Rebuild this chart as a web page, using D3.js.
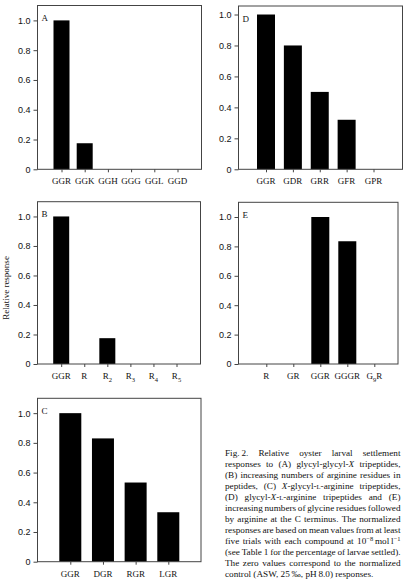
<!DOCTYPE html>
<html>
<head>
<meta charset="utf-8">
<script src="https://cdn.jsdelivr.net/npm/d3@7"></script>
<style>
  body { margin: 0; background: #fff; }
  svg { display: block; font-family: "Liberation Serif", "Times New Roman", serif; }
  .tick text { font-size: 9px; fill: #111; }
  .tick line { stroke: #444; }
</style>
</head>
<body>
<svg id="fig" width="406" height="581"></svg>
<script>
// panel data
const catsA = ["GGR", "GGK", "GGH", "GGG", "GGL", "GGD"];
const valsA = [1.0, 0.175, 0, 0, 0, 0];

const catsB = ["GGR", "R", "R_{2}", "R_{3}", "R_{4}", "R_{5}"];
const valsB = [1.0, 0, 0.175, 0, 0, 0];

const catsC = ["GGR", "DGR", "RGR", "LGR"];
const valsC = [1.0, 0.83, 0.533, 0.333];

const catsD = ["GGR", "GDR", "GRR", "GFR", "GPR"];
const valsD = [1.0, 0.8, 0.5, 0.32, 0];

const catsE = ["R", "GR", "GGR", "GGGR", "G_{9}R"];
const valsE = [0, 0, 1.0, 0.835, 0];

const yTicks = [0, 0.2, 0.4, 0.6, 0.8, 1.0];

// caption lines (*x* italic, {x} small caps, ^{x} superscript, ~ thin space)
const captionLines = [
  "Fig.~2. Relative oyster larval settlement",
  "responses to (A) glycyl-glycyl-*X* tripeptides,",
  "(B) increasing numbers of arginine residues in",
  "peptides, (C) *X*-glycyl-{L}-arginine tripeptides,",
  "(D) glycyl-*X*-{L}-arginine tripeptides and (E)",
  "increasing numbers of glycine residues followed",
  "by arginine at the C terminus. The normalized",
  "responses are based on mean values from at least",
  "five trials with each compound at 10^{−8}~mol~l^{−1}",
  "(see Table 1 for the percentage of larvae settled).",
  "The zero values correspond to the normalized",
  "control (ASW, 25~‰, pH~8.0) responses.",
];

// panel layout
const panels = [
  { letter: "A", cats: catsA, vals: valsA, frame: [37.5, 5.5, 201.5, 169.3], xr: [61.5, 177.5], ymax: 1.1, bw: 16 },
  { letter: "D", cats: catsD, vals: valsD, frame: [238.5, 6, 402.5, 169.3], xr: [266, 373.5], ymax: 1.055, bw: 18 },
  { letter: "B", cats: catsB, vals: valsB, frame: [37.5, 201.7, 200.5, 364], xr: [61.2, 176.5], ymax: 1.1, bw: 16 },
  { letter: "E", cats: catsE, vals: valsE, frame: [238.5, 202.3, 398, 364], xr: [266.3, 374.3], ymax: 1.1, bw: 18 },
  { letter: "C", cats: catsC, vals: valsC, frame: [37.5, 398.3, 201, 561.7], xr: [70.3, 168.3], ymax: 1.1, bw: 22 },
];

const svg = d3.select("#fig");
const fmt = (d) => (d === 0 ? "0" : d3.format(".1f")(d));

// write label with _{sub}
function subLabel(sel, str) {
  const parts = str.split(/(_\{[^}]+\})/).filter((s) => s !== "");
  let shifted = false;
  parts.forEach((p) => {
    if (p.startsWith("_{")) {
      sel.append("tspan").attr("dy", 2.5).attr("font-size", 6.5).text(p.slice(2, -1));
      shifted = true;
    } else {
      const t = sel.append("tspan").text(p);
      if (shifted) { t.attr("dy", -2.5); shifted = false; }
    }
  });
}

function drawPanel(p) {
  const [x0, y0, x1, y1] = p.frame;
  const g = svg.append("g");

  const x = d3.scalePoint().domain(p.cats).range(p.xr);
  const y = d3.scaleLinear().domain([0, p.ymax]).range([y1, y0]);

  // bars
  g.selectAll("rect.bar")
    .data(p.cats.map((c, i) => ({ c, v: p.vals[i] })).filter((d) => d.v > 0))
    .enter()
    .append("rect")
    .attr("class", "bar")
    .attr("x", (d) => x(d.c) - p.bw / 2)
    .attr("y", (d) => y(d.v))
    .attr("width", p.bw)
    .attr("height", (d) => y(0) - y(d.v))
    .attr("fill", "#000");

  // frame
  g.append("rect")
    .attr("x", x0).attr("y", y0)
    .attr("width", x1 - x0).attr("height", y1 - y0)
    .attr("fill", "none").attr("stroke", "#444").attr("stroke-width", 1);

  // y axis
  const ya = g.append("g")
    .attr("transform", `translate(${x0},0)`)
    .call(d3.axisLeft(y).tickValues(yTicks).tickSize(4).tickPadding(3).tickFormat(fmt));
  ya.select(".domain").remove();

  // x axis ticks
  const xa = g.append("g")
    .attr("transform", `translate(0,${y1})`)
    .call(d3.axisBottom(x).tickSize(3).tickFormat(""));
  xa.select(".domain").remove();

  // category labels
  p.cats.forEach((c) => {
    const t = g.append("text")
      .attr("x", x(c)).attr("y", y1 + 15)
      .attr("text-anchor", "middle")
      .attr("font-size", 9).attr("fill", "#111");
    subLabel(t, c);
  });

  // panel letter
  g.append("text")
    .attr("x", x0 + 4).attr("y", y0 + 15.5)
    .attr("font-size", 9).attr("fill", "#111")
    .text(p.letter);
}

panels.forEach(drawPanel);

// y axis title
svg.append("text")
  .attr("transform", "translate(9,288) rotate(-90)")
  .attr("text-anchor", "middle")
  .attr("font-size", 9).attr("fill", "#111")
  .text("Relative response");

// caption
const capLeft = 225, capRight = 400.5, capTop = 456, capStep = 11, capSize = 9.2;

function richWord(sel, word) {
  const toks = word.replace(/~/g, "\u2009").match(/(\*[^*]+\*|\{[^}]+\}|\^\{[^}]+\}|[^*{^]+)/g);
  let up = false;
  toks.forEach((tk) => {
    let t;
    if (tk.startsWith("^{")) {
      t = sel.append("tspan").attr("dy", -3.5).attr("font-size", capSize * 0.7).text(tk.slice(2, -1));
      up = true;
      return;
    }
    if (tk.startsWith("*")) t = sel.append("tspan").attr("font-style", "italic").text(tk.slice(1, -1));
    else if (tk.startsWith("{")) t = sel.append("tspan").attr("font-size", capSize * 0.72).text(tk.slice(1, -1));
    else t = sel.append("tspan").text(tk);
    if (up) { t.attr("dy", 3.5); up = false; }
  });
}

const cap = svg.append("g").attr("font-size", capSize).attr("fill", "#111");
captionLines.forEach((line, li) => {
  const words = line.split(" ");
  const yy = capTop + li * capStep;
  const nodes = words.map((w) => {
    const t = cap.append("text").attr("y", yy);
    richWord(t, w);
    return t;
  });
  const widths = nodes.map((n) => n.node().getComputedTextLength());
  const total = d3.sum(widths);
  const last = li === captionLines.length - 1;
  const gap = last ? capSize * 0.25 : (capRight - capLeft - total) / (words.length - 1);
  let cx = capLeft;
  nodes.forEach((n, i) => {
    n.attr("x", cx);
    cx += widths[i] + gap;
  });
});
</script>
</body>
</html>
